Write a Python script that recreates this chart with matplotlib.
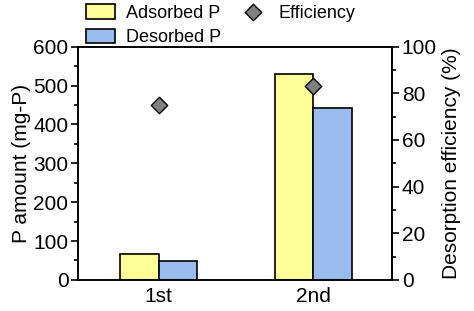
import numpy as np
import matplotlib
matplotlib.use("Agg")
import matplotlib.pyplot as plt
from matplotlib.ticker import MultipleLocator

plt.rcParams['font.family'] = ['Liberation Sans', 'DejaVu Sans']
plt.rcParams['font.size'] = 15

# data
cycles = ['1st', '2nd']
adsorbed = [66, 530]
desorbed = [49, 441]
efficiency = [75, 83]

x = np.arange(len(cycles))
w = 0.25

fig, ax = plt.subplots(figsize=(4.74, 3.11), dpi=100)
fig.subplots_adjust(left=0.165, right=0.827, top=0.85, bottom=0.10)

b1 = ax.bar(x - w/2, adsorbed, w, color='#FFFF99', edgecolor='black', lw=1.2,
            label='Adsorbed P', zorder=2)
b2 = ax.bar(x + w/2, desorbed, w, color='#99BBEE', edgecolor='black', lw=1.2,
            label='Desorbed P', zorder=2)

ax.set_xlim(-0.52, 1.51)
ax.set_ylim(0, 600)
ax.set_xticks(x)
ax.set_xticklabels(cycles)
ax.tick_params(axis='x', length=0, pad=5)
ax.yaxis.set_major_locator(MultipleLocator(100))
ax.yaxis.set_minor_locator(MultipleLocator(50))
ax.tick_params(axis='y', which='major', length=5, width=1.2, pad=2)
ax.tick_params(axis='y', which='minor', length=3, width=1.2)
ax.set_ylabel('P amount (mg-P)', labelpad=2)
for s in ax.spines.values():
    s.set_linewidth(1.2)

ax2 = ax.twinx()
p = ax2.scatter(x, efficiency, marker='D', s=70, color='#808080',
                edgecolor='black', lw=1.0, label='Efficiency', zorder=3)
ax2.set_ylim(0, 100)
ax2.yaxis.set_major_locator(MultipleLocator(20))
ax2.yaxis.set_minor_locator(MultipleLocator(10))
ax2.tick_params(axis='y', which='major', length=5, width=1.2, pad=2)
ax2.tick_params(axis='y', which='minor', length=3, width=1.2)
ax2.set_ylabel('Desorption efficiency (%)', labelpad=4)
for s in ax2.spines.values():
    s.set_linewidth(1.2)

fig.legend([b1, b2, p], ['Adsorbed P', 'Desorbed P', 'Efficiency'],
           ncol=2, loc='upper left', bbox_to_anchor=(0.167, 1.01),
           frameon=False, fontsize=13, handlelength=1.6, handleheight=0.85,
           columnspacing=0.95, labelspacing=0.4, handletextpad=0.6,
           borderaxespad=0)

fig.savefig('out.png', dpi=100)
